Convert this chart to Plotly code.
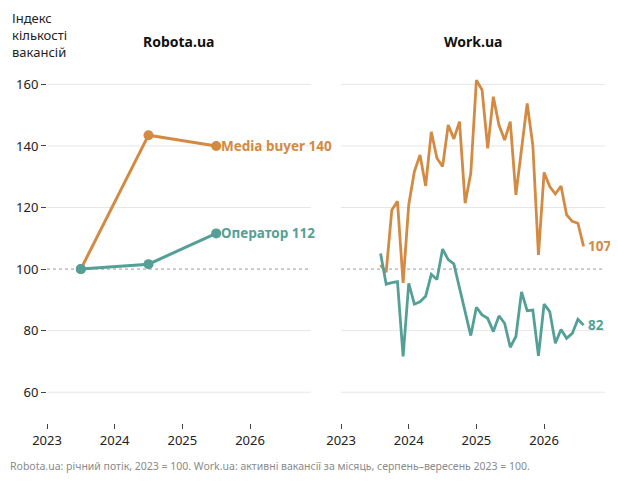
import plotly.graph_objects as go

# Robota.ua: annual flow, 2023 = 100
robota_years = [2023.5, 2024.5, 2025.5]
robota_media_buyer = [100, 143.5, 140]
robota_operator = [100, 101.6, 111.6]

# Work.ua: active vacancies per month, Aug 2023 .. Aug 2026
work_months = [2023 + m / 12 for m in range(7, 44)]
work_media_buyer = [
    101.4, 99.0, 119.2, 122.0, 95.5, 120.9, 131.7, 137.1, 127.0, 144.6,
    136.0, 133.3, 146.8, 142.3, 147.9, 121.4, 131.1, 161.4, 158.2, 139.2,
    156.0, 146.8, 141.9, 147.9, 124.1, 139.2, 153.8, 140.3, 104.6, 131.4,
    126.8, 124.4, 127.0, 117.6, 115.5, 114.9, 107.4,
]
work_operator = [
    105.1, 95.1, 95.6, 95.9, 71.6, 95.4, 88.6, 89.4, 91.2, 98.3,
    96.6, 106.5, 103.1, 101.7, 93.9, 86.3, 78.4, 87.6, 85.1, 84.0,
    79.7, 84.8, 82.4, 74.6, 78.1, 92.6, 86.5, 86.7, 71.8, 88.6,
    86.2, 75.9, 80.4, 77.5, 79.1, 83.7, 81.8,
]

year_ticks = [2023, 2024, 2025, 2026]
grid_values = [60, 80, 120, 140, 160]
base_value = 100

ORANGE = "#D38A43"
TEAL = "#55A096"
FONT = "Noto Sans"

fig = go.Figure()

# left panel: Robota.ua
fig.add_trace(go.Scatter(
    x=robota_years, y=robota_media_buyer, mode="lines+markers",
    line=dict(color=ORANGE, width=3), marker=dict(size=10, color=ORANGE),
    xaxis="x", yaxis="y", cliponaxis=False, hoverinfo="skip"))
fig.add_trace(go.Scatter(
    x=robota_years, y=robota_operator, mode="lines+markers",
    line=dict(color=TEAL, width=3), marker=dict(size=10, color=TEAL),
    xaxis="x", yaxis="y", cliponaxis=False, hoverinfo="skip"))

# right panel: Work.ua
fig.add_trace(go.Scatter(
    x=work_months, y=work_media_buyer, mode="lines",
    line=dict(color=ORANGE, width=2.8), xaxis="x2", yaxis="y2", hoverinfo="skip"))
fig.add_trace(go.Scatter(
    x=work_months, y=work_operator, mode="lines",
    line=dict(color=TEAL, width=2.8), xaxis="x2", yaxis="y2", hoverinfo="skip"))

# grid lines drawn as shapes so the 100 line can be dotted alone
shapes = []
for xr, yr in (("x", "y"), ("x2", "y2")):
    for v in grid_values:
        shapes.append(dict(type="line", xref=xr + " domain", yref=yr,
                           x0=0, x1=1, y0=v, y1=v, layer="below",
                           line=dict(color="#e6e6e6", width=1)))
    shapes.append(dict(type="line", xref=xr + " domain", yref=yr,
                       x0=0, x1=1, y0=base_value, y1=base_value, layer="below",
                       line=dict(color="#999999", width=1, dash="dot")))

annotations = [
    dict(text="<b>Robota.ua</b>", xref="x domain", yref="paper", x=0.5, y=1.079,
         yanchor="middle", showarrow=False, font=dict(size=14, color="#111")),
    dict(text="<b>Work.ua</b>", xref="x2 domain", yref="paper", x=0.5, y=1.079,
         yanchor="middle", showarrow=False, font=dict(size=14, color="#111")),
    dict(text="Індекс<br>кількості<br>вакансій", xref="paper", yref="paper",
         x=-0.066, y=1.095, xanchor="left", yanchor="middle", align="left",
         showarrow=False, font=dict(size=13, color="#222")),
    dict(text=f"<b>Media buyer {robota_media_buyer[-1]:.0f}</b>", xref="x", yref="y",
         x=robota_years[-1], y=robota_media_buyer[-1], xanchor="left", xshift=3,
         showarrow=False, font=dict(size=13.5, color=ORANGE)),
    dict(text=f"<b>Оператор {robota_operator[-1]:.0f}</b>", xref="x", yref="y",
         x=robota_years[-1], y=robota_operator[-1], xanchor="left", xshift=3,
         showarrow=False, font=dict(size=13.5, color=TEAL)),
    dict(text=f"<b>{work_media_buyer[-1]:.0f}</b>", xref="x2", yref="y2",
         x=work_months[-1], y=work_media_buyer[-1], xanchor="left", xshift=2,
         showarrow=False, font=dict(size=13.5, color=ORANGE)),
    dict(text=f"<b>{work_operator[-1]:.0f}</b>", xref="x2", yref="y2",
         x=work_months[-1], y=work_operator[-1], xanchor="left", xshift=2,
         showarrow=False, font=dict(size=13.5, color=TEAL)),
    dict(text="Robota.ua: річний потік, 2023 = 100. Work.ua: активні вакансії за місяць, "
              "серпень–вересень 2023 = 100.",
         xref="paper", yref="paper", x=-0.0699, y=-0.121, xanchor="left",
         yanchor="middle", showarrow=False, font=dict(size=10.5, color="#8a8a8a")),
]

xaxis_style = dict(range=[2023, 2026.9], tickvals=year_ticks, showgrid=False,
                   zeroline=False, showline=False, ticks="outside", ticklen=5,
                   tickcolor="#444", tickfont=dict(size=13, color="#222"))
yaxis_style = dict(range=[50, 165], tickvals=grid_values + [base_value],
                   showgrid=False, zeroline=False, showline=False)

# the page body adds 8px around the figure, so it is sized to fit inside
fig.update_layout(
    width=602, height=469,
    margin=dict(l=39, r=5, t=61, b=54),
    paper_bgcolor="white", plot_bgcolor="white",
    font=dict(family=FONT, color="#222"),
    showlegend=False,
    xaxis=dict(domain=[0, 0.473], anchor="y", **xaxis_style),
    xaxis2=dict(domain=[0.527, 1], anchor="y2", **xaxis_style),
    yaxis=dict(anchor="x", ticks="outside", ticklen=5, tickcolor="#444",
               tickfont=dict(size=13, color="#222"), **yaxis_style),
    yaxis2=dict(anchor="x2", showticklabels=False, **yaxis_style),
    shapes=shapes,
    annotations=annotations,
)

fig.write_html("out.html")
